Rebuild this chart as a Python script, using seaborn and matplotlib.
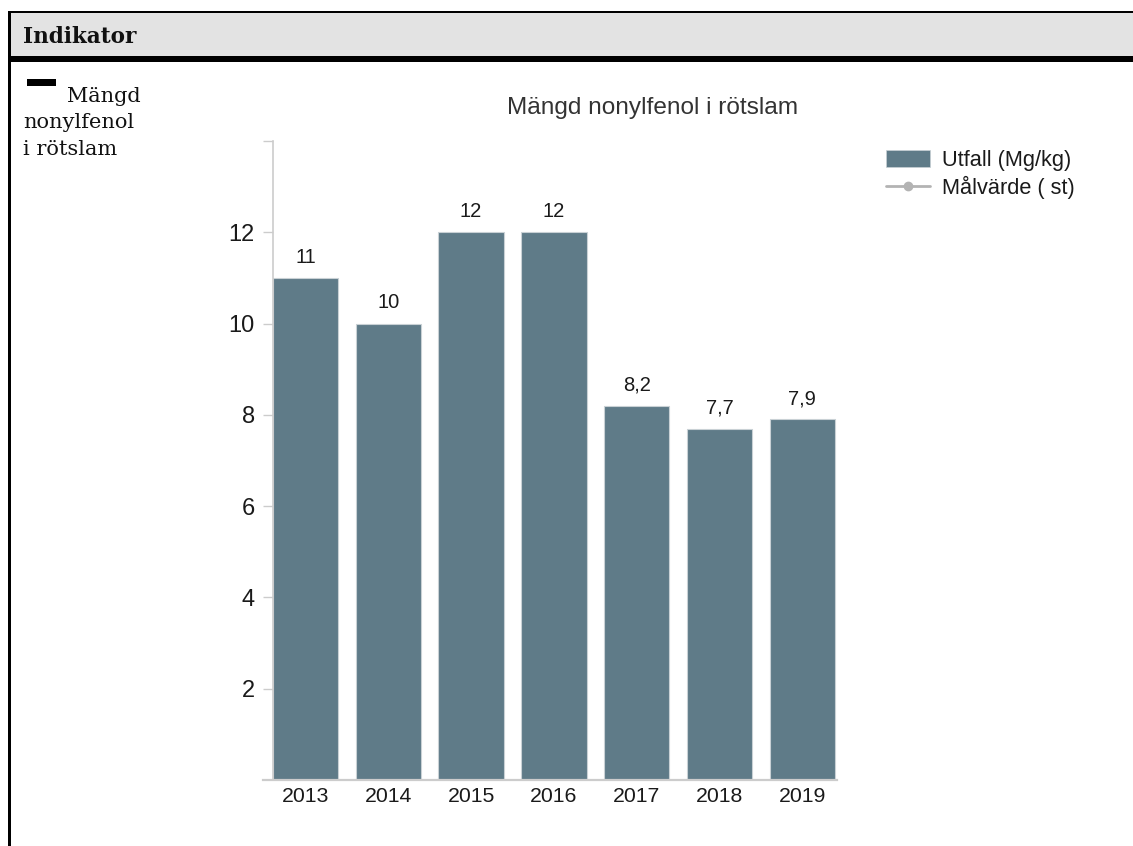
import matplotlib
matplotlib.use("Agg")
import matplotlib.pyplot as plt
from matplotlib.patches import Rectangle, Patch
from matplotlib.lines import Line2D
import seaborn as sns
import pandas as pd

# ---- data ----
years = ["2013", "2014", "2015", "2016", "2017", "2018", "2019"]
utfall = [11, 10, 12, 12, 8.2, 7.7, 7.9]
y_ticks = [2, 4, 6, 8, 10, 12, 14]
y_tick_labels = ["2", "4", "6", "8", "10", "12", ""]
title = "Mängd nonylfenol i rötslam"
legend_labels = ["Utfall (Mg/kg)", "Målvärde ( st)"]
header_text = "Indikator"
side_lines = ["Mängd", "nonylfenol", "i rötslam"]

sns.set_style("white")
plt.rcParams["font.family"] = ["Liberation Sans", "DejaVu Sans"]

W, H = 1133, 846
fig = plt.figure(figsize=(W / 100, H / 100), dpi=100)

def fx(px):
    return px / W

def fy(py):
    return 1 - py / H

BAR = "#5f7b88"

# ---- page frame ----
fig.add_artist(Rectangle((fx(10), fy(56)), 1, (56 - 12) / H, transform=fig.transFigure,
                         facecolor="#e3e3e3", edgecolor="none"))
fig.add_artist(Rectangle((fx(10), fy(62)), 1, 6 / H, transform=fig.transFigure,
                         facecolor="black", edgecolor="none"))
fig.add_artist(Rectangle((fx(8), fy(13.5)), 1, 2.5 / H, transform=fig.transFigure,
                         facecolor="black", edgecolor="none"))
fig.add_artist(Rectangle((fx(8), 0), 3 / W, fy(11), transform=fig.transFigure,
                         facecolor="black", edgecolor="none"))
fig.text(fx(23), fy(43), header_text, fontfamily="DejaVu Serif", fontweight="bold",
         fontsize=15.5, color="#111111", va="baseline", ha="left")
fig.add_artist(Rectangle((fx(27), fy(86)), 29 / W, 7 / H, transform=fig.transFigure,
                         facecolor="black", edgecolor="none"))
fig.text(fx(67), fy(102), side_lines[0], fontfamily="DejaVu Serif", fontsize=15,
         color="#111111", va="baseline", ha="left")
fig.text(fx(23), fy(128), side_lines[1], fontfamily="DejaVu Serif", fontsize=15,
         color="#111111", va="baseline", ha="left")
fig.text(fx(23), fy(155), side_lines[2], fontfamily="DejaVu Serif", fontsize=15,
         color="#111111", va="baseline", ha="left")

# ---- chart ----
ax = fig.add_axes([fx(263), fy(780), (837 - 263) / W, (780 - 141) / H])
df = pd.DataFrame({"year": years, "utfall": utfall})
sns.barplot(data=df, x="year", y="utfall", color=BAR, width=0.79, saturation=1,
            edgecolor="#c9d1d5", linewidth=0.8, ax=ax)
ax.set_xlim(-0.514, 6.42)
ax.set_ylim(0, 14)
ax.set_xlabel("")
ax.set_ylabel("")

for s in ["top", "right"]:
    ax.spines[s].set_visible(False)
ax.spines["left"].set_position(("data", -0.393))
ax.spines["left"].set_color("#cccccc")
ax.spines["left"].set_linewidth(1.2)
ax.spines["bottom"].set_color("#cccccc")
ax.spines["bottom"].set_linewidth(1.6)

ax.set_yticks(y_ticks)
ax.set_yticklabels(y_tick_labels)
ax.tick_params(axis="y", left=True, length=7.5, width=1, color="#cccccc",
               labelsize=17, labelcolor="#1a1a1a", pad=5.5)
ax.tick_params(axis="x", bottom=False, length=0, labelsize=15.3, labelcolor="#1a1a1a", pad=5)

labels = [f"{v:g}".replace(".", ",") for v in utfall]
ax.bar_label(ax.containers[0], labels=labels, padding=8, fontsize=14.5, color="#1a1a1a")

fig.text(fx(652.5), fy(108), title, ha="center", va="center", fontsize=17.6, color="#333333")

handles = [Patch(facecolor=BAR, edgecolor="#c9d1d5", linewidth=0.5),
           Line2D([0], [0], color="#b3b3b3", lw=2, marker="o", markersize=6,
                  markerfacecolor="#b3b3b3", markeredgecolor="#b3b3b3")]
fig.legend(handles, legend_labels, loc="upper left",
           bbox_to_anchor=(fx(886), fy(150)), bbox_transform=fig.transFigure,
           frameon=False, fontsize=15.7, handlelength=2.0, handleheight=0.8,
           handletextpad=0.55, labelspacing=0.22, borderpad=0, borderaxespad=0,
           labelcolor="#1a1a1a")

fig.savefig("out.png", dpi=100)
